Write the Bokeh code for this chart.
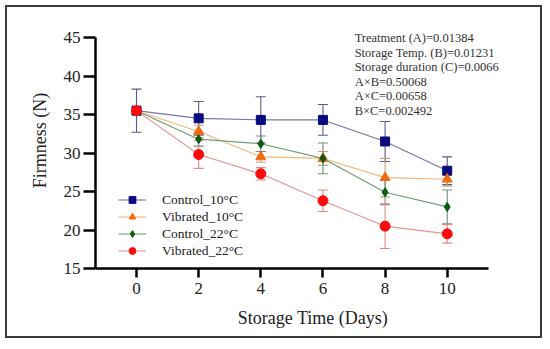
from bokeh.plotting import figure
from bokeh.models import (ColumnDataSource, Whisker, TeeHead, Legend, LegendItem,
                          FixedTicker, Label)
from bokeh.embed import file_html
from bokeh.resources import INLINE

days = [0, 2, 4, 6, 8, 10]
series_names = ["Control_10°C", "Vibrated_10°C", "Control_22°C", "Vibrated_22°C"]
control_10 = [35.5, 34.5, 34.3, 34.3, 31.5, 27.7]
control_10_err = [2.8, 2.2, 3.0, 2.0, 2.6, 1.8]
vibrated_10 = [35.5, 32.8, 29.5, 29.3, 26.8, 26.6]
vibrated_10_err = [0.0, 0.8, 0.7, 0.9, 2.5, 0.9]
control_22 = [35.5, 31.8, 31.2, 29.3, 24.9, 23.0]
control_22_err = [0.0, 0.9, 1.0, 2.0, 1.6, 2.2]
vibrated_22 = [35.5, 29.8, 27.3, 23.8, 20.5, 19.5]
vibrated_22_err = [0.0, 1.8, 0.8, 1.4, 2.9, 1.2]
stats_lines = ["Treatment (A)=0.01384", "Storage Temp. (B)=0.01231",
               "Storage duration (C)=0.0066", "A×B=0.50068", "A×C=0.00658",
               "B×C=0.002492"]
y_ticks = [15, 20, 25, 30, 35, 40, 45]
x_ticks = [0, 2, 4, 6, 8, 10]

FONT = "Liberation Serif"

p = figure(width=537, height=333, output_backend="svg", toolbar_location=None,
           x_range=(-1.32, 12.68), y_range=(15, 48.25),
           min_border_left=88, min_border_right=14, min_border_top=5,
           min_border_bottom=72)
p.styles = {"border": "2px solid #3a3a3a", "margin": "5px 0 0 5px"}
p.outline_line_color = None
p.grid.visible = False
p.background_fill_color = "white"
p.border_fill_color = "white"

for ax in (p.xaxis[0], p.yaxis[0]):
    ax.axis_line_width = 2.5
    ax.axis_line_color = "black"
    ax.major_tick_line_width = 2.5
    ax.major_tick_line_color = "black"
    ax.major_tick_in = 0
    ax.minor_tick_line_color = None
    ax.major_label_text_font = FONT
    ax.major_label_text_font_size = "17px"
    ax.major_label_text_color = "#222222"
    ax.axis_label_text_font = FONT
    ax.axis_label_text_font_size = "18px"
    ax.axis_label_text_font_style = "normal"
    ax.axis_label_text_color = "#222222"

p.yaxis[0].ticker = FixedTicker(ticks=y_ticks)
p.yaxis[0].bounds = (15, 45)
p.yaxis[0].major_tick_out = 12
p.yaxis[0].major_label_standoff = 3
p.yaxis[0].axis_label = "Firmness (N)"
p.yaxis[0].axis_label_standoff = 11
p.xaxis[0].ticker = FixedTicker(ticks=x_ticks)
p.xaxis[0].bounds = (-1.32, 11.33)
p.xaxis[0].major_tick_out = 9
p.xaxis[0].major_label_standoff = 5
p.xaxis[0].axis_label = "Storage Time (Days)"
p.xaxis[0].axis_label_standoff = 11

styles = [
    (control_10, control_10_err, "square", 9, "#0b0b80", "#7474aa", "#5c5c84"),
    (vibrated_10, vibrated_10_err, "triangle", 10, "#f06a10", "#f4b47a", "#c8a27a"),
    (control_22, control_22_err, "diamond", 9, "#0e5a10", "#6e9e70", "#6f8f78"),
    (vibrated_22, vibrated_22_err, "circle", 10, "#ff0a0a", "#ea9090", "#e08888"),
]

items = []
line_rs = []
mark_rs = []
for name, (vals, errs, marker, size, mcol, lcol, ecol) in zip(series_names, styles):
    src = ColumnDataSource(dict(
        x=days, y=vals,
        upper=[v + e for v, e in zip(vals, errs)],
        lower=[v - e for v, e in zip(vals, errs)]))
    lr = p.line("x", "y", source=src, line_color=lcol, line_width=1.1)
    w = Whisker(base="x", upper="upper", lower="lower", source=src,
                dimension="height", line_color=ecol, line_width=1.1,
                upper_head=TeeHead(size=10, line_color=ecol, line_width=1.1),
                lower_head=TeeHead(size=10, line_color=ecol, line_width=1.1))
    p.add_layout(w)
    line_rs.append((name, lr))
    mark_rs.append((src, marker, size, mcol))

marker_renderers = []
for src, marker, size, mcol in mark_rs:
    mr = p.scatter("x", "y", source=src, marker=marker, size=size,
                   fill_color=mcol, line_color=mcol)
    marker_renderers.append(mr)

for (name, lr), mr in zip(line_rs, marker_renderers):
    items.append(LegendItem(label=name, renderers=[lr, mr]))

legend = Legend(items=items, location=(23, 9), padding=0, margin=0,
                spacing=0, glyph_width=28, glyph_height=17, label_height=17,
                label_standoff=16, border_line_color=None,
                background_fill_alpha=0,
                label_text_font=FONT, label_text_font_size="13.5px",
                label_text_color="#222222")
p.add_layout(legend, "center")

for i, t in enumerate(stats_lines):
    p.add_layout(Label(x=7.02, y=44.9 - i * 1.88, text=t, text_font=FONT,
                       text_font_size="12.5px", text_color="#333333",
                       text_baseline="middle", text_align="left"))

open("out.html", "w").write(file_html(p, INLINE))
